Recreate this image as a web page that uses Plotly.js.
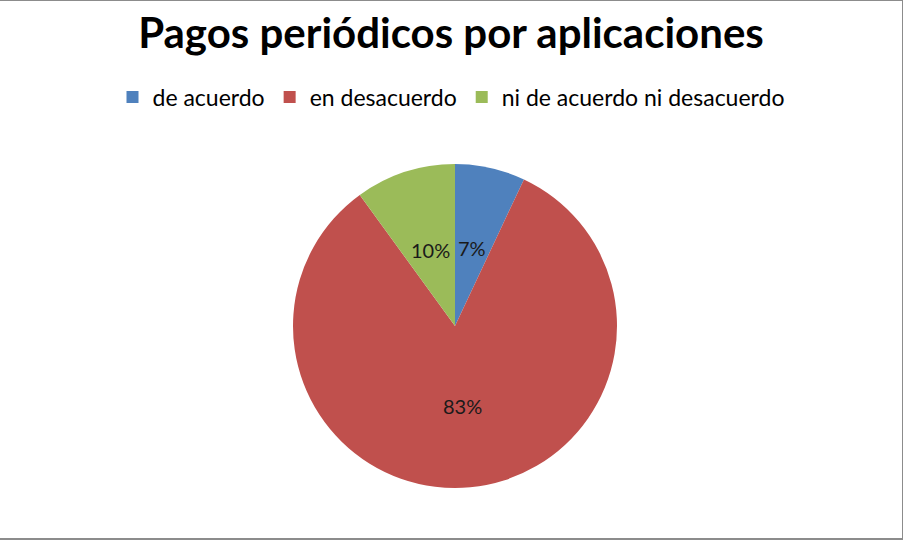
<!DOCTYPE html>
<html>
<head>
<meta charset="utf-8">
<script src="https://cdn.plot.ly/plotly-3.0.1.min.js"></script>
<style>
html,body{margin:0;padding:0;background:#fff;}
#wrap{position:absolute;left:0;top:0;width:903px;height:540px;border-top:1px solid #8c8c8c;border-right:1px solid #8c8c8c;border-bottom:2px solid #8c8c8c;box-sizing:border-box;overflow:hidden;}
#chart{width:902px;height:537px;}
</style>
</head>
<body>
<div id="wrap"><div id="chart"></div></div>
<script>
var categories = ["de acuerdo", "en desacuerdo", "ni de acuerdo ni desacuerdo"];
var values = [7, 83, 10];
var colors = ["#4f81bd", "#c0504d", "#9bbb59"];
var chartTitle = "Pagos periódicos por aplicaciones";

var W = 902, H = 537;
var cx = 455, cy = 325, r = 162, rLab = 80;
var FONT = "Lato, 'Open Sans', sans-serif";

var total = values.reduce(function (a, b) { return a + b; }, 0);
var annotations = [];
var cum = 0;
values.forEach(function (v) {
  var mid = (cum + v / 2) / total * 2 * Math.PI;
  cum += v;
  var px = cx + rLab * Math.sin(mid);
  var py = cy - rLab * Math.cos(mid);
  annotations.push({
    text: Math.round(v / total * 100) + "%",
    x: px / W, y: 1 - py / H, xref: "paper", yref: "paper",
    xanchor: "center", yanchor: "middle", showarrow: false,
    font: {family: FONT, size: 20, color: "#1a1a1a"}
  });
});

var data = [{
  type: "pie",
  labels: categories,
  values: values,
  sort: false,
  direction: "clockwise",
  rotation: 0,
  marker: {colors: colors, line: {color: "#ffffff", width: 0}},
  textinfo: "none",
  showlegend: true,
  hoverinfo: "label+percent",
  domain: {x: [(cx - r) / W, (cx + r) / W], y: [(H - cy - r) / H, (H - cy + r) / H]}
}];

var layout = {
  width: W, height: H,
  margin: {l: 0, r: 0, t: 0, b: 0},
  paper_bgcolor: "#ffffff",
  font: {family: FONT, color: "#000000"},
  title: {
    text: "<b>" + chartTitle + "</b>",
    font: {family: FONT, size: 42, color: "#000000"},
    x: 0.5, xanchor: "center", xref: "container",
    y: 1 - 32 / H, yanchor: "middle", yref: "container"
  },
  legend: {
    orientation: "h",
    x: 0.5, xanchor: "center",
    y: 1 - 96 / H, yanchor: "middle",
    font: {family: FONT, size: 23, color: "#000000"},
    itemwidth: 30,
    traceorder: "normal"
  },
  annotations: annotations
};

Plotly.newPlot("chart", data, layout, {displayModeBar: false, staticPlot: true});
</script>
</body>
</html>
